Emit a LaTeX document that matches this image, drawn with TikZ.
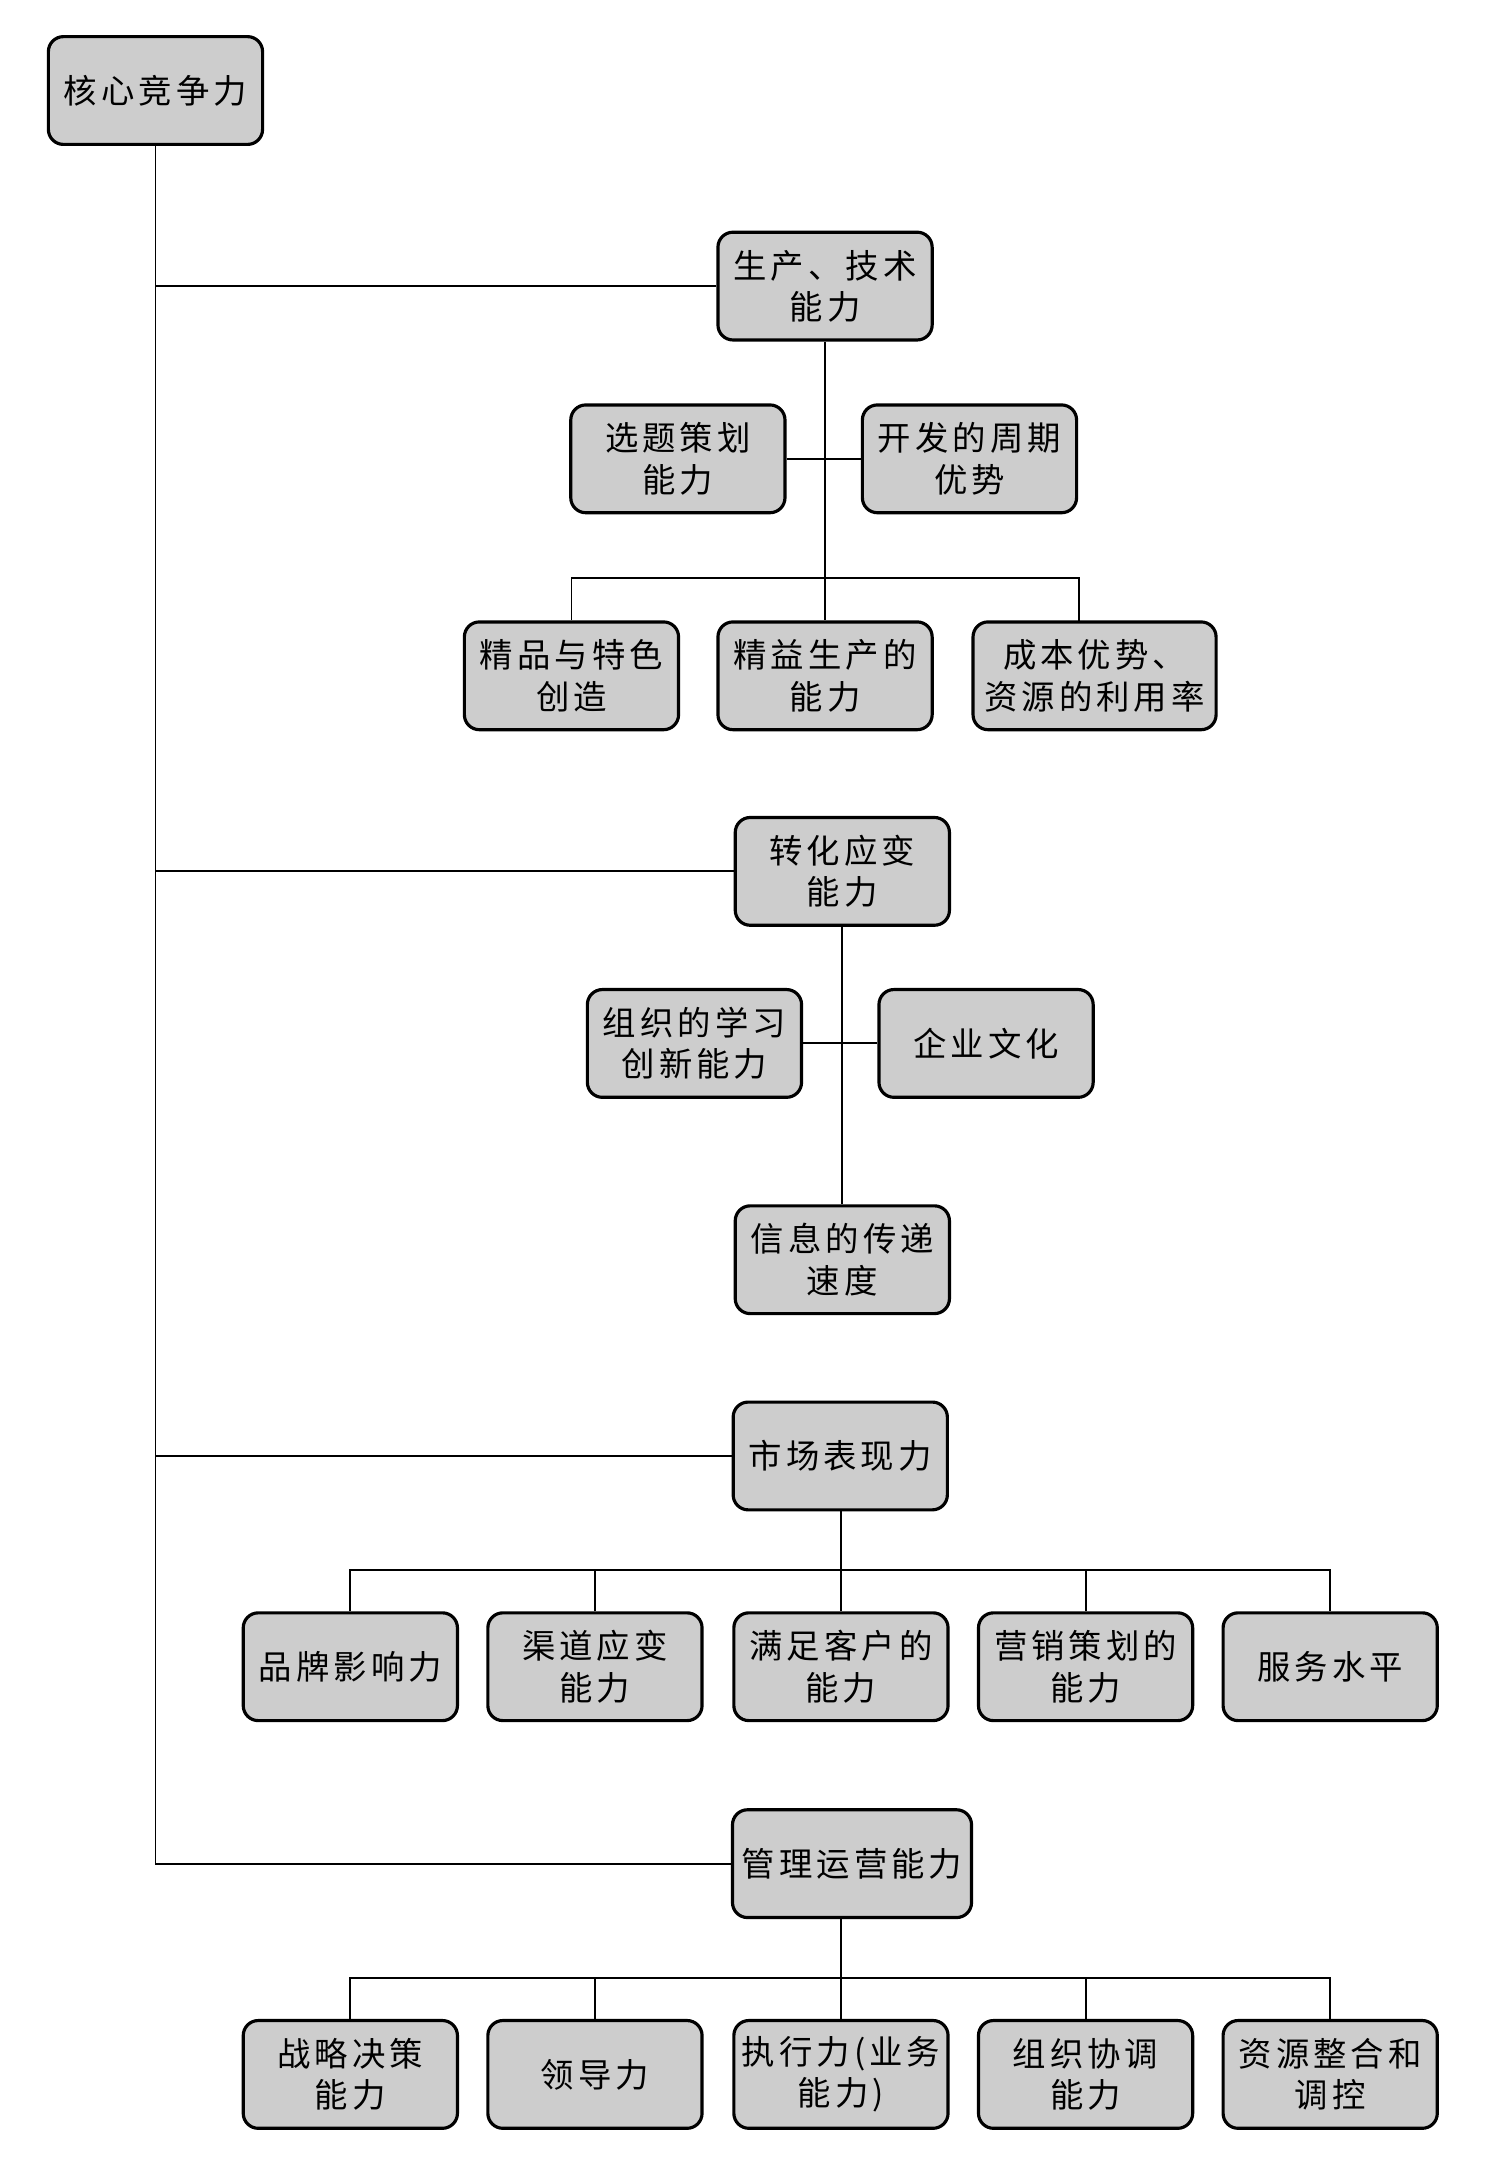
\documentclass[tikz,border=0pt]{standalone}
\usepackage{fontspec}
\newfontfamily\cjk[LetterSpace=12]{Noto Sans CJK SC}
\definecolor{boxgray}{RGB}{205,205,205}
\tikzset{
  box/.style={draw=black, line width=1.8pt, fill=boxgray, rounded corners=0.3cm,
    minimum width=4.283cm, minimum height=2.155cm, align=center, inner sep=1pt,
    font=\cjk\fontsize{19}{23.5}\selectfont},
  link/.style={draw=black, line width=1.1pt}
}
\begin{document}
\begin{tikzpicture}[x=0.027632cm, y=-0.027632cm]
\useasboundingbox (0,0) rectangle (1077,1568);
% root
\node[box] (root) at (112.5,65.5) {核心竞争力};
% branch 1
\node[box] (sc) at (597,207) {生产、技术\\能力};
\node[box] (xt) at (490.5,332) {选题策划\\能力};
\node[box] (kf) at (701.5,332) {开发的周期\\优势};
\node[box] (jp) at (413.5,489) {精品与特色\\创造};
\node[box] (jy) at (597,489) {精益生产的\\能力};
\node[box, minimum width=4.86cm] (cb) at (792,489) {成本优势、\\资源的利用率};
% branch 2
\node[box] (zh) at (609.5,630.5) {转化应变\\能力};
\node[box] (zz) at (502.5,755) {组织的学习\\创新能力};
\node[box] (qy) at (713.5,755) {企业文化};
\node[box] (xx) at (609.5,911.5) {信息的传递\\速度};
% branch 3
\node[box] (sh) at (608,1053.5) {市场表现力};
\node[box] (pp) at (253.5,1206) {品牌影响力};
\node[box] (qd) at (430.5,1206) {渠道应变\\能力};
\node[box] (mz) at (608.5,1206) {满足客户的\\能力};
\node[box] (yx) at (785.5,1206) {营销策划的\\能力};
\node[box] (fw) at (962.5,1206) {服务水平};
% branch 4
\node[box, minimum width=4.78cm] (gl) at (616.5,1348.5) {管理运营能力};
\node[box] (zl) at (253.5,1501) {战略决策\\能力};
\node[box] (ld) at (430.5,1501) {领导力};
\node[box] (zx) at (608.5,1501) {执行力(业务\\能力)};
\node[box] (zj) at (785.5,1501) {组织协调\\能力};
\node[box] (zy) at (962.5,1501) {资源整合和\\调控};
% helper coordinates
\coordinate (cbt) at (781,450);
\coordinate (bar1) at (0,418);
\coordinate (bar3) at (0,1136);
\coordinate (bar4) at (0,1431);
% trunk
\draw[link] (root.south) -- (root.south |- gl.west) -- (gl.west);
\draw[link] (root.south |- sc.west) -- (sc.west);
\draw[link] (root.south |- zh.west) -- (zh.west);
\draw[link] (root.south |- sh.west) -- (sh.west);
% branch 1 links
\draw[link] (sc.south) -- (jy.north);
\draw[link] (xt.east) -- (kf.west);
\draw[link] (jp.north) -- (jp.north |- bar1) -- (cbt |- bar1) -- (cbt);
% branch 2 links
\draw[link] (zh.south) -- (xx.north);
\draw[link] (zz.east) -- (qy.west);
% branch 3 links
\draw[link] (sh.south -| mz.north) -- (mz.north);
\draw[link] (pp.north) -- (pp.north |- bar3) -- (fw.north |- bar3) -- (fw.north);
\draw[link] (qd.north) -- (qd.north |- bar3);
\draw[link] (yx.north) -- (yx.north |- bar3);
% branch 4 links
\draw[link] (gl.south -| zx.north) -- (zx.north);
\draw[link] (zl.north) -- (zl.north |- bar4) -- (zy.north |- bar4) -- (zy.north);
\draw[link] (ld.north) -- (ld.north |- bar4);
\draw[link] (zj.north) -- (zj.north |- bar4);
\end{tikzpicture}
\end{document}
